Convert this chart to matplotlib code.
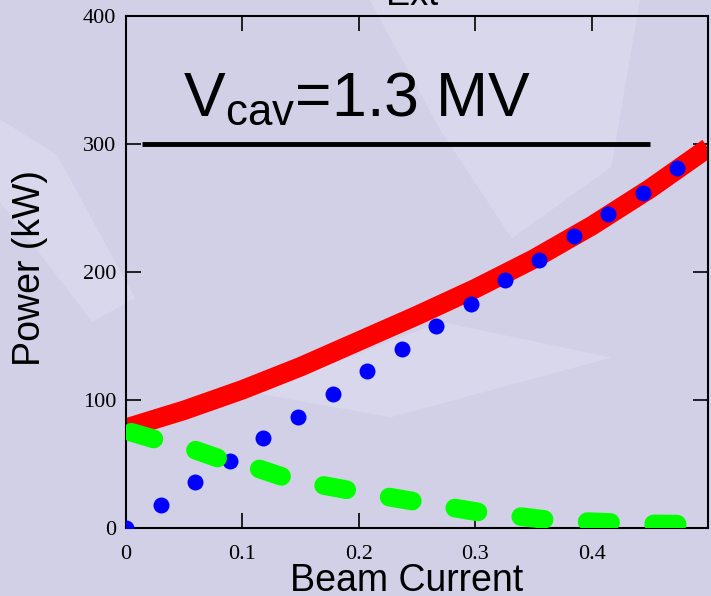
import matplotlib.pyplot as plt
from matplotlib.patches import Polygon

plt.rcParams['mathtext.fontset'] = 'custom'
plt.rcParams['mathtext.rm'] = 'Liberation Sans'
plt.rcParams['mathtext.it'] = 'Liberation Sans'

# curves
red_x = [0, 0.05, 0.1, 0.15, 0.2, 0.25, 0.3, 0.35, 0.4, 0.45, 0.5]
red_y = [78, 92, 108, 126, 146, 166, 187, 210, 236, 265, 297]

blue_x = [0, 0.030, 0.059, 0.089, 0.118, 0.148, 0.178, 0.207, 0.237,
          0.266, 0.296, 0.326, 0.355, 0.385, 0.414, 0.444, 0.473]
blue_y = [0, 18, 36, 52, 70, 87, 105, 123, 140, 158, 175, 194, 209, 228, 245, 262, 281]

green_x = [0, 0.026, 0.059, 0.084, 0.115, 0.138, 0.171, 0.195, 0.227, 0.253,
           0.283, 0.306, 0.338, 0.361, 0.394, 0.417, 0.45, 0.475]
green_y = [76, 69, 61, 53, 46, 39, 33, 29, 24, 20, 15.5, 12, 9, 6.5, 5, 4.3, 3.2, 3]

vcav_x = [0.0135, 0.45]
vcav_y = [300, 300]

bg = '#d2d0e7'
light = '#d9d7ec'

fig = plt.figure(figsize=(7.11, 5.96), dpi=100, facecolor=bg)

# faint swirls of the slide background
for pts in [[(0, 0.80), (0.08, 0.74), (0.19, 0.50), (0.13, 0.46), (0, 0.66)],
            [(0.52, 1.0), (0.9, 1.0), (0.86, 0.72), (0.72, 0.6), (0.62, 0.78)],
            [(0.36, 0.34), (0.55, 0.30), (0.86, 0.40), (0.62, 0.46)]]:
    fig.patches.append(Polygon(pts, closed=True, transform=fig.transFigure,
                               facecolor=light, edgecolor='none', zorder=-5))

ax = fig.add_axes([126 / 711, 1 - 528 / 596, 582 / 711, 512 / 596])
ax.patch.set_alpha(0)

ax.plot(red_x, red_y, color='#ff0000', lw=14, solid_capstyle='butt',
        solid_joinstyle='round', zorder=2)
ax.plot(blue_x, blue_y, 'o', color='#0000ff', ms=11.5, mec='none', zorder=3)
ax.plot(green_x, green_y, color='#00ff00', lw=13.5, linestyle=(3.25, (1.25, 2.3)),
        dash_capstyle='round', zorder=4)
ax.plot(vcav_x, vcav_y, color='black', lw=3.5, solid_capstyle='butt', zorder=2)

ax.text(0.049, 322, r'V$_{\rm cav}$=1.3 MV', fontsize=45, family='Liberation Sans',
        va='baseline', ha='left')

ax.set_xlim(0, 0.5)
ax.set_ylim(0, 400)
ax.set_xticks([0, 0.1, 0.2, 0.3, 0.4])
ax.set_xticklabels(['0', '0.1', '0.2', '0.3', '0.4'])
ax.set_yticks([0, 100, 200, 300, 400])
ax.tick_params(direction='in', length=11, width=1.2, top=True, right=True,
               labelsize=16)
ax.tick_params(axis='x', pad=12)
ax.tick_params(axis='y', pad=7)
for lab in ax.get_xticklabels() + ax.get_yticklabels():
    lab.set_family('Liberation Serif')
for s in ax.spines.values():
    s.set_linewidth(1.5)

fig.text(407 / 711, 5 / 596, 'Beam Current', fontsize=27, family='Liberation Sans',
         ha='center', va='baseline')
fig.text(30 / 711, 1 - 267.5 / 596, 'Power (kW)', fontsize=27, family='Liberation Sans',
         ha='center', va='center', rotation=90)
fig.text(412 / 711, 1 - 5 / 596, 'Ext', fontsize=26, family='Liberation Sans',
         ha='center', va='baseline')

fig.savefig('out.png', dpi=100, facecolor=bg)
